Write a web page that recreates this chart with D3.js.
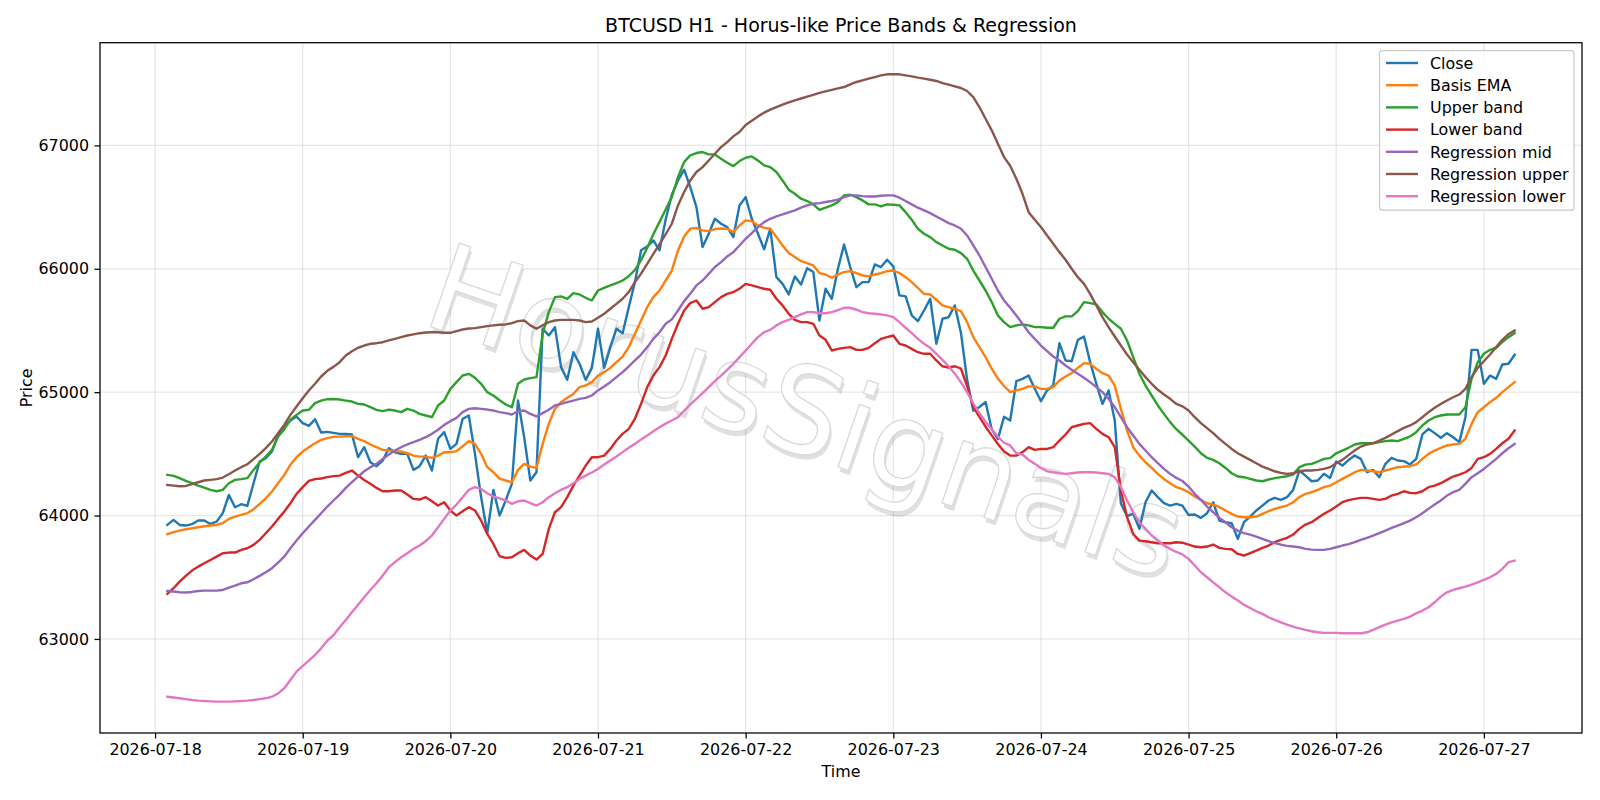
<!DOCTYPE html>
<html lang="en">
<head>
<meta charset="utf-8">
<title>BTCUSD H1 - Horus-like Price Bands & Regression</title>
<script src="https://d3js.org/d3.v7.min.js"></script>
<style>
  body { margin: 0; background: #fff; }
  svg text { font-family: "DejaVu Sans", sans-serif; fill: #000; }
</style>
</head>
<body>
<div id="chart"></div>
<script>

// hourly bars, first one at 2026-07-18 02:00
const startTime = "2026-07-18T02:00:00Z";
const tickLabels = ["2026-07-18", "2026-07-19", "2026-07-20", "2026-07-21", "2026-07-22",
                    "2026-07-23", "2026-07-24", "2026-07-25", "2026-07-26", "2026-07-27"];
const yTicks = [63000, 64000, 65000, 66000, 67000];

const close = [
  63924, 63965, 63924, 63919, 63930, 63960, 63960, 63932, 63951, 64019,
  64167, 64067, 64092, 64078, 64260, 64438, 64465, 64519, 64654, 64720,
  64770, 64803, 64749, 64727, 64781, 64673, 64678, 64670, 64662, 64662,
  64657, 64473, 64554, 64432, 64400, 64446, 64546, 64513, 64500, 64500,
  64370, 64400, 64486, 64365, 64622, 64676, 64540, 64581, 64784, 64811,
  64500, 64150, 63857, 64208, 64000, 64122, 64257, 64932, 64635, 64284,
  64351, 65514, 65460, 65527, 65203, 65100, 65324, 65230, 65100, 65197,
  65514, 65197, 65365, 65514, 65478, 65689, 65892, 66150, 66180, 66230,
  66150, 66400, 66600, 66716, 66803, 66662, 66500, 66176, 66284, 66405,
  66365, 66338, 66257, 66513, 66581, 66405, 66284, 66157, 66324, 65932,
  65878, 65792, 65938, 65873, 66005, 65973, 65581, 65838, 65757, 66000,
  66197, 66014, 65851, 65892, 65892, 66035, 66014, 66073, 66019, 65784,
  65776, 65622, 65576, 65662, 65757, 65392, 65595, 65608, 65703, 65480,
  65100, 64850, 64880, 64920, 64700, 64620, 64800, 64770, 65089, 65108,
  65135, 65027, 64927, 65014, 65054, 65397, 65257, 65251, 65424, 65451,
  65243, 65068, 64905, 65014, 64770, 64097, 63995, 64016, 63892, 64108,
  64203, 64149, 64100, 64081, 64095, 64080, 64005, 64008, 63981, 64019,
  64108, 63959, 63946, 63938, 63811, 63946, 63992, 64041, 64081, 64122,
  64143, 64127, 64149, 64208, 64365, 64324, 64278, 64284, 64338, 64305,
  64438, 64405, 64450, 64486, 64459, 64351, 64370, 64311, 64419, 64468,
  64446, 64441, 64414, 64459, 64657, 64703, 64668, 64630, 64668, 64635,
  64595, 64797, 65343, 65343, 65068, 65135, 65108, 65224, 65230, 65303
];

const basisEma = [
  63849, 63865, 63878, 63889, 63897, 63905, 63913, 63919, 63924, 63938,
  63973, 63992, 64005, 64019, 64051, 64095, 64140, 64195, 64262, 64330,
  64411, 64473, 64519, 64554, 64586, 64613, 64627, 64638, 64640, 64643,
  64643, 64622, 64603, 64576, 64554, 64532, 64527, 64522, 64519, 64505,
  64486, 64478, 64478, 64468, 64486, 64513, 64513, 64522, 64562, 64603,
  64581, 64500, 64392, 64351, 64300, 64284, 64270, 64370, 64419, 64397,
  64386, 64581, 64743, 64865, 64919, 64954, 64986, 65041, 65054, 65081,
  65135, 65162, 65197, 65243, 65289, 65365, 65473, 65581, 65689, 65770,
  65824, 65905, 65986, 66149, 66262, 66324, 66332, 66311, 66305, 66322,
  66327, 66324, 66297, 66351, 66392, 66386, 66351, 66332, 66324, 66257,
  66189, 66127, 66095, 66062, 66046, 66027, 65965, 65954, 65927, 65954,
  65973, 65981, 65965, 65946, 65938, 65954, 65965, 65981, 65986, 65965,
  65932, 65892, 65846, 65797, 65792, 65749, 65703, 65689, 65676, 65657,
  65568, 65446, 65365, 65284, 65190, 65110, 65050, 65000, 65014, 65027,
  65046, 65046, 65027, 65027, 65041, 65095, 65127, 65154, 65197, 65235,
  65230, 65189, 65154, 65135, 65054, 64865, 64689, 64554, 64486, 64432,
  64386, 64338, 64297, 64262, 64230, 64214, 64189, 64154, 64127, 64100,
  64089, 64068, 64041, 64014, 63992, 63986, 63986, 63992, 64014, 64035,
  64054, 64068, 64081, 64108, 64149, 64176, 64189, 64208, 64230, 64243,
  64270, 64297, 64324, 64351, 64370, 64365, 64359, 64351, 64365, 64378,
  64392, 64397, 64400, 64414, 64459, 64500, 64527, 64549, 64568, 64576,
  64581, 64622, 64743, 64838, 64878, 64919, 64954, 65000, 65041, 65081
];

const upperBand = [
  64330, 64322, 64303, 64281, 64262, 64243, 64227, 64208, 64197, 64208,
  64262, 64289, 64295, 64303, 64370, 64430, 64478, 64532, 64640, 64700,
  64776, 64816, 64851, 64857, 64911, 64932, 64943, 64945, 64941, 64932,
  64924, 64905, 64900, 64878, 64857, 64846, 64859, 64851, 64838, 64865,
  64851, 64824, 64811, 64797, 64892, 64932, 65027, 65081, 65135, 65149,
  65116, 65068, 65000, 64973, 64935, 64900, 64878, 65068, 65103, 65114,
  65122, 65473, 65649, 65770, 65776, 65757, 65803, 65792, 65765, 65743,
  65824, 65846, 65865, 65884, 65905, 65940, 65990, 66070, 66170, 66280,
  66380, 66480, 66581, 66743, 66865, 66919, 66938, 66946, 66927, 66927,
  66892, 66859, 66832, 66873, 66900, 66911, 66878, 66838, 66824, 66784,
  66716, 66641, 66608, 66568, 66549, 66522, 66478, 66495, 66514, 66540,
  66595, 66600, 66581, 66554, 66522, 66522, 66505, 66522, 66519, 66514,
  66459, 66397, 66324, 66284, 66257, 66216, 66189, 66162, 66154, 66127,
  66081, 65986, 65905, 65824, 65730, 65622, 65568, 65527, 65541, 65549,
  65541, 65527, 65527, 65522, 65522, 65595, 65614, 65614, 65657, 65730,
  65722, 65711, 65649, 65595, 65554, 65514, 65419, 65284, 65149, 65054,
  64973, 64892, 64824, 64757, 64700, 64655, 64608, 64559, 64505, 64468,
  64451, 64424, 64386, 64343, 64316, 64311, 64297, 64284, 64278, 64292,
  64303, 64311, 64319, 64332, 64392, 64413, 64419, 64438, 64459, 64465,
  64505, 64527, 64549, 64576, 64586, 64586, 64586, 64595, 64603, 64608,
  64603, 64622, 64641, 64676, 64730, 64770, 64797, 64811, 64819, 64819,
  64819, 64878, 65108, 65243, 65311, 65343, 65360, 65405, 65446, 65478
];

const lowerBand = [
  63365, 63411, 63465, 63511, 63554, 63586, 63613, 63640, 63667, 63694,
  63700, 63700, 63722, 63735, 63762, 63803, 63857, 63911, 63973, 64032,
  64100, 64176, 64230, 64281, 64295, 64300, 64311, 64320, 64324, 64346,
  64365, 64324, 64289, 64257, 64224, 64197, 64197, 64203, 64203, 64170,
  64135, 64130, 64149, 64116, 64081, 64108, 64041, 64000, 64035, 64068,
  64041, 63959, 63851, 63770, 63670, 63657, 63662, 63694, 63722, 63676,
  63643, 63689, 63892, 64027, 64068, 64149, 64243, 64324, 64405, 64473,
  64473, 64486, 64540, 64608, 64662, 64703, 64784, 64905, 65041, 65135,
  65203, 65297, 65432, 65554, 65662, 65722, 65743, 65676, 65689, 65730,
  65770, 65797, 65811, 65838, 65878, 65865, 65851, 65838, 65830, 65757,
  65703, 65635, 65586, 65568, 65568, 65554, 65459, 65424, 65338, 65351,
  65359, 65365, 65343, 65343, 65359, 65397, 65432, 65446, 65459, 65392,
  65378, 65351, 65324, 65311, 65311, 65257, 65210, 65200, 65210, 65190,
  65050, 64880, 64800, 64720, 64650, 64580, 64520, 64486, 64486, 64514,
  64554, 64532, 64540, 64540, 64554, 64608, 64657, 64716, 64730, 64743,
  64749, 64703, 64662, 64635, 64554, 64203, 63986, 63851, 63797, 63792,
  63784, 63776, 63776, 63776, 63784, 63780, 63765, 63749, 63743, 63749,
  63765, 63738, 63730, 63727, 63689, 63676, 63695, 63716, 63738, 63757,
  63784, 63803, 63819, 63846, 63892, 63927, 63946, 63981, 64014, 64041,
  64073, 64108, 64125, 64135, 64143, 64143, 64135, 64127, 64135, 64162,
  64176, 64197, 64184, 64181, 64197, 64230, 64243, 64262, 64289, 64316,
  64332, 64351, 64386, 64459, 64473, 64500, 64541, 64586, 64622, 64689
];

const regMid = [
  63389, 63384, 63378, 63376, 63381, 63389, 63392, 63392, 63392, 63397,
  63416, 63432, 63451, 63459, 63484, 63511, 63540, 63573, 63619, 63667,
  63735, 63797, 63857, 63911, 63965, 64019, 64073, 64122, 64170, 64224,
  64270, 64316, 64359, 64392, 64419, 64459, 64495, 64527, 64554, 64576,
  64595, 64613, 64635, 64662, 64695, 64735, 64765, 64792, 64838, 64865,
  64870, 64865, 64859, 64851, 64838, 64830, 64819, 64846, 64851, 64824,
  64803, 64830, 64857, 64892, 64905, 64919, 64932, 64946, 64954, 64973,
  65014, 65046, 65081, 65122, 65162, 65208, 65257, 65305, 65365, 65432,
  65486, 65554, 65590, 65662, 65738, 65797, 65865, 65905, 65959, 66014,
  66054, 66100, 66135, 66189, 66243, 66289, 66338, 66378, 66405, 66424,
  66441, 66457, 66473, 66495, 66514, 66527, 66532, 66541, 66549, 66560,
  66581, 66595, 66595, 66589, 66586, 66586, 66592, 66595, 66595, 66576,
  66549, 66522, 66495, 66473, 66451, 66424, 66397, 66370, 66351, 66324,
  66270, 66189, 66108, 66014, 65919, 65824, 65743, 65685, 65622, 65554,
  65486, 65432, 65378, 65332, 65289, 65257, 65216, 65181, 65149, 65116,
  65081, 65041, 65000, 64946, 64878, 64797, 64716, 64649, 64581, 64527,
  64473, 64424, 64378, 64338, 64305, 64280, 64235, 64176, 64127, 64073,
  64027, 63981, 63946, 63905, 63878, 63857, 63846, 63830, 63811, 63792,
  63776, 63765, 63754, 63749, 63743, 63730, 63724, 63722, 63722, 63730,
  63743, 63757, 63768, 63784, 63803, 63819, 63838, 63857, 63878, 63900,
  63919, 63938, 63959, 63986, 64019, 64054, 64089, 64122, 64162, 64189,
  64208, 64257, 64311, 64343, 64378, 64419, 64459, 64505, 64545, 64580
];

const regUpper = [
  64249, 64243, 64238, 64240, 64254, 64270, 64284, 64289, 64295, 64308,
  64335, 64365, 64392, 64416, 64457, 64500, 64546, 64600, 64668, 64735,
  64816, 64884, 64951, 65013, 65068, 65127, 65173, 65205, 65243, 65297,
  65332, 65360, 65378, 65392, 65397, 65405, 65419, 65432, 65446, 65459,
  65468, 65478, 65484, 65486, 65486, 65481, 65481, 65495, 65508, 65516,
  65519, 65527, 65535, 65541, 65546, 65549, 65560, 65576, 65581, 65541,
  65514, 65541, 65568, 65581, 65586, 65586, 65586, 65581, 65568, 65573,
  65603, 65635, 65676, 65716, 65757, 65811, 65892, 65960, 66040, 66120,
  66200, 66280, 66365, 66513, 66622, 66716, 66784, 66824, 66878, 66932,
  66986, 67027, 67073, 67108, 67165, 67200, 67235, 67265, 67290, 67310,
  67330, 67348, 67365, 67380, 67395, 67410, 67425, 67438, 67450, 67462,
  67473, 67495, 67514, 67527, 67541, 67554, 67568, 67576, 67578, 67576,
  67568, 67559, 67549, 67541, 67532, 67522, 67505, 67492, 67478, 67465,
  67441, 67392, 67311, 67216, 67122, 67014, 66905, 66835, 66730, 66608,
  66459, 66397, 66338, 66270, 66203, 66135, 66073, 66000, 65932, 65878,
  65797, 65703, 65608, 65527, 65451, 65378, 65305, 65243, 65181, 65122,
  65068, 65019, 64981, 64946, 64905, 64885, 64851, 64797, 64749, 64708,
  64668, 64622, 64581, 64540, 64505, 64478, 64451, 64424, 64397, 64378,
  64359, 64346, 64338, 64343, 64359, 64365, 64365, 64370, 64378, 64392,
  64424, 64451, 64490, 64527, 64559, 64576, 64586, 64608, 64630, 64657,
  64684, 64711, 64730, 64757, 64797, 64838, 64873, 64905, 64932, 64959,
  64981, 65027, 65122, 65197, 65251, 65305, 65365, 65424, 65470, 65500
];

const regLower = [
  62532, 62525, 62519, 62512, 62505, 62500, 62497, 62494, 62492, 62492,
  62492, 62494, 62497, 62500, 62505, 62512, 62519, 62532, 62559, 62600,
  62667, 62735, 62781, 62824, 62870, 62924, 62986, 63030, 63094, 63154,
  63216, 63278, 63338, 63397, 63451, 63514, 63581, 63622, 63662, 63694,
  63730, 63757, 63792, 63838, 63905, 63973, 64041, 64089, 64149, 64208,
  64230, 64216, 64181, 64154, 64140, 64122, 64095, 64116, 64122, 64100,
  64081, 64108, 64149, 64181, 64208, 64230, 64262, 64297, 64324, 64349,
  64378, 64413, 64446, 64478, 64514, 64549, 64581, 64616, 64649, 64684,
  64716, 64745, 64770, 64797, 64851, 64900, 64946, 64992, 65041, 65089,
  65135, 65181, 65230, 65284, 65338, 65392, 65446, 65486, 65505, 65541,
  65568, 65586, 65608, 65630, 65649, 65649, 65640, 65640, 65649, 65665,
  65684, 65684, 65668, 65649, 65640, 65635, 65630, 65622, 65608, 65568,
  65522, 65478, 65432, 65392, 65359, 65311, 65262, 65210, 65150, 65080,
  65000, 64910, 64830, 64760, 64700, 64640, 64590, 64568, 64505, 64495,
  64451, 64419, 64386, 64359, 64351, 64343, 64338, 64343, 64349, 64351,
  64351, 64349, 64343, 64338, 64311, 64230, 64122, 64027, 63946, 63892,
  63838, 63797, 63757, 63730, 63705, 63685, 63649, 63595, 63541, 63500,
  63459, 63419, 63378, 63343, 63311, 63278, 63251, 63224, 63203, 63176,
  63154, 63135, 63116, 63100, 63086, 63073, 63062, 63054, 63049, 63049,
  63049, 63046, 63046, 63046, 63046, 63054, 63073, 63095, 63116, 63135,
  63149, 63162, 63181, 63208, 63230, 63257, 63297, 63343, 63378, 63397,
  63411, 63424, 63441, 63459, 63478, 63500, 63527, 63568, 63622, 63635
];

const series = [
  { name: "Close",            values: close,     color: "#1f77b4" },
  { name: "Basis EMA",        values: basisEma,  color: "#ff7f0e" },
  { name: "Upper band",       values: upperBand, color: "#2ca02c" },
  { name: "Lower band",       values: lowerBand, color: "#d62728" },
  { name: "Regression mid",   values: regMid,    color: "#9467bd" },
  { name: "Regression upper", values: regUpper,  color: "#8c564b" },
  { name: "Regression lower", values: regLower,  color: "#e377c2" }
];

const t0 = new Date(startTime);
const times = close.map((d, i) => d3.utcHour.offset(t0, i));

// figure layout (matplotlib-ish axes box)
const W = 1600, H = 800;
const box = { left: 100, right: 1582, top: 42.7, bottom: 733 };

const svg = d3.select("#chart").append("svg")
    .attr("width", W)
    .attr("height", H);

// 5% margins like matplotlib autoscale
const tExt = d3.extent(times);
const tPad = (tExt[1] - tExt[0]) * 0.05;
const x = d3.scaleUtc()
    .domain([new Date(+tExt[0] - tPad), new Date(+tExt[1] + tPad)])
    .range([box.left, box.right]);

const allVals = series.flatMap(s => s.values);
const vExt = d3.extent(allVals);
const vPad = (vExt[1] - vExt[0]) * 0.05;
const y = d3.scaleLinear()
    .domain([vExt[0] - vPad, vExt[1] + vPad])
    .range([box.bottom, box.top]);

const parseDay = d3.utcParse("%Y-%m-%d");
const xTickVals = tickLabels.map(parseDay);

// grid
const grid = svg.append("g");
grid.selectAll(".gx").data(xTickVals).enter().append("line")
    .attr("x1", d => x(d)).attr("x2", d => x(d))
    .attr("y1", box.top).attr("y2", box.bottom)
    .attr("stroke", "#b0b0b0").attr("stroke-opacity", 0.3).attr("stroke-width", 1.27);
grid.selectAll(".gy").data(yTicks).enter().append("line")
    .attr("x1", box.left).attr("x2", box.right)
    .attr("y1", d => y(d)).attr("y2", d => y(d))
    .attr("stroke", "#b0b0b0").attr("stroke-opacity", 0.3).attr("stroke-width", 1.27);

// watermark (light outline + soft shadow)
const wm = svg.append("g")
    .attr("transform", "translate(806,412) rotate(19)");
wm.append("text")
    .attr("x", 3).attr("y", 4)
    .attr("text-anchor", "middle")
    .attr("dominant-baseline", "central")
    .style("font-size", "121px")
    .style("fill", "#000")
    .style("fill-opacity", 0.12)
    .text("HorusSignals");
wm.append("text")
    .attr("text-anchor", "middle")
    .attr("dominant-baseline", "central")
    .style("font-size", "121px")
    .style("fill", "#fff")
    .style("stroke", "#dadada")
    .style("stroke-width", 1.3)
    .text("HorusSignals");

// lines
svg.append("clipPath").attr("id", "clip")
  .append("rect")
    .attr("x", box.left).attr("y", box.top)
    .attr("width", box.right - box.left).attr("height", box.bottom - box.top);

const line = d3.line()
    .x((d, i) => x(times[i]))
    .y(d => y(d));

svg.append("g").attr("clip-path", "url(#clip)")
  .selectAll("path")
  .data(series)
  .enter()
  .append("path")
    .attr("d", d => line(d.values))
    .attr("fill", "none")
    .attr("stroke", d => d.color)
    .attr("stroke-width", 2.4)
    .attr("stroke-linejoin", "round")
    .attr("stroke-linecap", "square");

// axes
const xAxis = svg.append("g")
    .attr("transform", `translate(0,${box.bottom})`)
    .call(d3.axisBottom(x)
      .tickValues(xTickVals)
      .tickFormat((d, i) => tickLabels[i])
      .tickSize(5.5).tickPadding(5.5));

const yAxis = svg.append("g")
    .attr("transform", `translate(${box.left},0)`)
    .call(d3.axisLeft(y)
      .tickValues(yTicks)
      .tickFormat(d3.format("d"))
      .tickSize(5.5).tickPadding(5.5));

[xAxis, yAxis].forEach(a => {
  a.select(".domain").remove();
  a.selectAll(".tick line").attr("stroke", "#000").attr("stroke-width", 1.27);
  a.selectAll(".tick text").style("font-size", "15.9px").style("font-family", "DejaVu Sans");
});

// frame
svg.append("rect")
    .attr("x", box.left).attr("y", box.top)
    .attr("width", box.right - box.left).attr("height", box.bottom - box.top)
    .attr("fill", "none").attr("stroke", "#000").attr("stroke-width", 1.27);

// titles
svg.append("text")
    .attr("x", (box.left + box.right) / 2).attr("y", 32)
    .attr("text-anchor", "middle")
    .style("font-size", "19px")
    .text("BTCUSD H1 - Horus-like Price Bands & Regression");

svg.append("text")
    .attr("x", (box.left + box.right) / 2).attr("y", 777)
    .attr("text-anchor", "middle")
    .style("font-size", "15.9px")
    .text("Time");

svg.append("text")
    .attr("transform", `translate(31.5,${(box.top + box.bottom) / 2}) rotate(-90)`)
    .attr("text-anchor", "middle")
    .style("font-size", "15.9px")
    .text("Price");

// legend
const lg = svg.append("g");
lg.append("rect")
    .attr("x", 1379.5).attr("y", 50.7)
    .attr("width", 194.5).attr("height", 159.5)
    .attr("rx", 3).attr("ry", 3)
    .attr("fill", "#fff").attr("fill-opacity", 0.8)
    .attr("stroke", "#cccccc").attr("stroke-width", 1.27);

const rows = lg.selectAll(".row").data(series).enter().append("g")
    .attr("transform", (d, i) => `translate(0,${63 + i * 22.2})`);
rows.append("line")
    .attr("x1", 1386).attr("x2", 1418)
    .attr("stroke", d => d.color).attr("stroke-width", 2.4);
rows.append("text")
    .attr("x", 1430).attr("y", 0)
    .attr("dy", "0.36em")
    .style("font-size", "15.9px")
    .text(d => d.name);

</script>
</body>
</html>
